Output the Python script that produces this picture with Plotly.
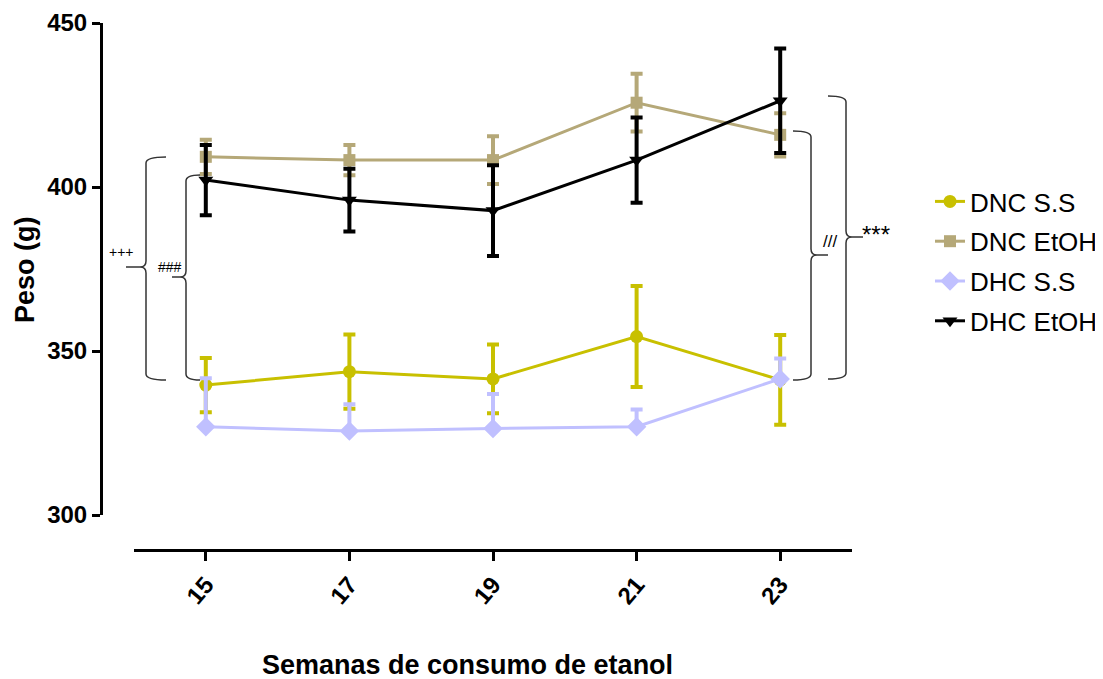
import plotly.graph_objects as go

W, H = 1103, 679
OFF = 8  # page body margin

weeks = [15, 17, 19, 21, 23]
series_names = ["DNC S.S", "DNC EtOH", "DHC S.S", "DHC EtOH"]
dnc_ss = [339.6, 343.7, 341.5, 354.4, 341.2]
dnc_ss_sem = [8.3, 11.3, 10.5, 15.4, 13.7]
dnc_etoh = [409.2, 408.2, 408.2, 425.7, 415.9]
dnc_etoh_sem = [5.2, 4.6, 7.3, 8.8, 6.6]
dhc_ss = [326.9, 325.6, 326.4, 326.9, 341.5]
dhc_ss_sem = [14.8, 8.2, 10.5, 5.3, 6.2]
dhc_etoh = [402.1, 396.0, 392.8, 408.2, 426.3]
dhc_etoh_sem = [10.7, 9.6, 13.8, 13.0, 15.9]

y_ticks = [300, 350, 400, 450]

FONT = "Arial, Liberation Sans, sans-serif"


def px(x):
    return (x - OFF) / W


def py(y):
    return 1 - (y - OFF) / H


fig = go.Figure()

specs = [
    (dnc_ss, dnc_ss_sem, "#C8C000", "circle", 13, True),
    (dnc_etoh, dnc_etoh_sem, "#B5A878", "square", 12, True),
    (dhc_ss, dhc_ss_sem, "#C0C0FF", "diamond", 15, False),
    (dhc_etoh, dhc_etoh_sem, "#000000", "triangle-down", 13, True),
]

for i, (vals, sem, col, sym, size, both) in enumerate(specs):
    err = dict(type="data", array=sem, visible=True, color=col, thickness=4, width=6)
    if not both:
        err["symmetric"] = False
        err["arrayminus"] = [0] * len(sem)
    fig.add_trace(go.Scatter(
        x=weeks, y=vals, name=series_names[i], mode="lines+markers",
        line=dict(color=col, width=3),
        marker=dict(color=col, symbol=sym, size=size),
        error_y=err, legendgroup=f"g{i}",
    ))


def brace(xv, xe, xtip, ytop, ybot, ymid, r=6):
    d = 1 if xtip < xv else -1  # direction of tip
    pts = [
        f"M {px(xe)},{py(ytop)}",
        f"Q {px(xv)},{py(ytop)} {px(xv)},{py(ytop + r)}",
        f"L {px(xv)},{py(ymid - r)}",
        f"Q {px(xv)},{py(ymid)} {px(xv - d * r)},{py(ymid)}",
        f"L {px(xtip)},{py(ymid)}",
        f"M {px(xv - d * r)},{py(ymid)}",
        f"Q {px(xv)},{py(ymid)} {px(xv)},{py(ymid + r)}",
        f"L {px(xv)},{py(ybot - r)}",
        f"Q {px(xv)},{py(ybot)} {px(xe)},{py(ybot)}",
    ]
    return dict(type="path", xref="paper", yref="paper", path=" ".join(pts),
                line=dict(color="#333333", width=1.5))


fig.add_shape(brace(146, 166, 126, 157, 380, 267))
fig.add_shape(brace(186, 200, 172, 175, 380, 277))
fig.add_shape(brace(811, 793, 828, 131, 380, 255))
fig.add_shape(brace(846, 828, 863, 96, 379, 237))

anns = [
    ("+++", 121, 252, 14),
    ("###", 170, 267, 14),
    ("///", 830, 241, 17),
    ("***", 876, 235, 24),
]
for t, x, y, s in anns:
    fig.add_annotation(text=t, x=px(x), y=py(y), xref="paper", yref="paper",
                       showarrow=False, font=dict(family=FONT, size=s, color="#000"),
                       xanchor="center", yanchor="middle")

fig.add_annotation(text="<b>Peso (g)</b>", x=px(25), y=py(270), xref="paper", yref="paper",
                   showarrow=False, textangle=-90, font=dict(family=FONT, size=27, color="#000"),
                   xanchor="center", yanchor="middle")
fig.add_annotation(text="<b>Semanas de consumo de etanol</b>", x=px(467), y=py(665),
                   xref="paper", yref="paper", showarrow=False,
                   font=dict(family=FONT, size=27, color="#000"),
                   xanchor="center", yanchor="middle")

fig.update_layout(
    width=W, height=H,
    margin=dict(l=0, r=0, t=0, b=0, autoexpand=False),
    paper_bgcolor="white", plot_bgcolor="white",
    font=dict(family=FONT, color="#000"),
    xaxis=dict(
        domain=[px(134), px(852)], range=[14, 24], anchor="free", position=py(550),
        tickvals=weeks, ticktext=[f"<b>{w}</b>" for w in weeks], tickangle=-50,
        showline=True, linecolor="#000", linewidth=3,
        ticks="outside", ticklen=9, tickwidth=3, tickcolor="#000",
        tickfont=dict(family=FONT, size=24, color="#000"),
        showgrid=False, zeroline=False, automargin=False,
    ),
    yaxis=dict(
        domain=[py(515), py(23)], range=[300, 450], anchor="free", position=px(101),
        tickvals=y_ticks, ticktext=[f"<b>{v}</b>" for v in y_ticks],
        showline=True, linecolor="#000", linewidth=3,
        ticks="outside", ticklen=8, tickwidth=3, tickcolor="#000",
        tickfont=dict(family=FONT, size=24, color="#000"),
        showgrid=False, zeroline=False, automargin=False,
    ),
    legend=dict(
        x=px(930), y=py(178), xanchor="left", yanchor="top",
        font=dict(family=FONT, size=26, color="#000"),
        tracegroupgap=3, bgcolor="rgba(0,0,0,0)",
    ),
    showlegend=True,
)

fig.write_html("out.html")
